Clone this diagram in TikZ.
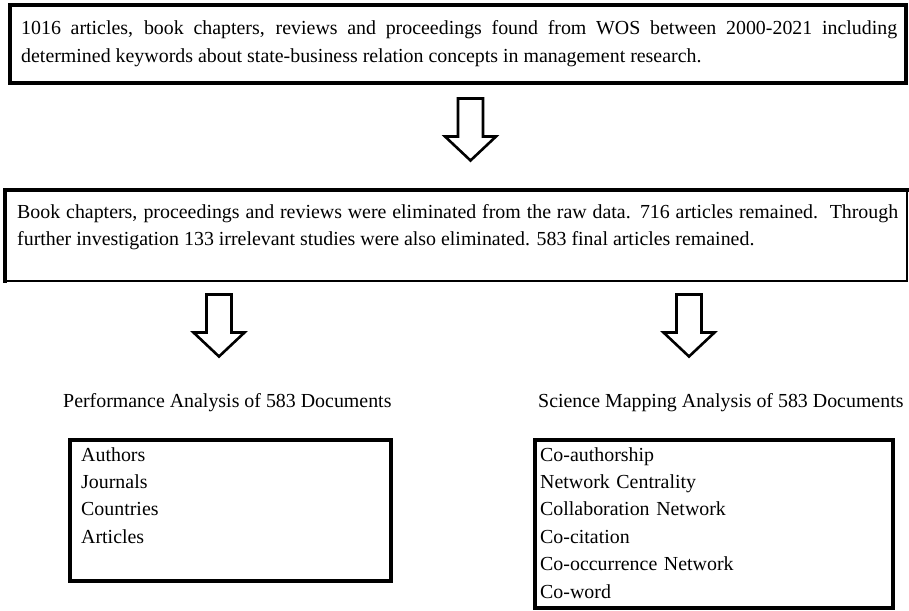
\documentclass[tikz,border=0pt]{standalone}
\usepackage{fontspec}
\setmainfont{Liberation Serif}
\tikzset{
  bigbox/.style={draw=black, line width=4.3pt, inner sep=0pt},
  txt/.style={inner sep=0pt, anchor=base west, font=\fontsize{19.9}{27.4}\selectfont, align=left},
  downarrow/.pic={\draw[line width=2.6pt, line join=miter, fill=white]
     (-12.5,0) -- (12.5,0) -- (12.5,38) -- (25.5,38) -- (0,62) -- (-25.5,38) -- (-12.5,38) -- cycle;}
}
\begin{document}
\begin{tikzpicture}[x=1pt,y=-1pt]
\useasboundingbox (0,0) rectangle (909,610);
% box 1
\node[bigbox, minimum width=896pt, minimum height=78pt] (box1) at (458,44) {};
\node[txt, text width=876pt, align=justify] (t1) at (21,35) {1016 articles, book chapters, reviews and proceedings found from WOS between 2000-2021 including\linebreak determined keywords about state-business relation concepts in management research.};
% arrow 1
\pic at (470.5,98.5) {downarrow};
% box 2
\coordinate (b2tl) at (5,190);
\coordinate (b2tr) at (907,190);
\coordinate (b2br) at (907,281);
\coordinate (b2bl) at (5,281);
\draw[line width=4.3pt, line cap=rect] (b2bl) -- (b2tl) -- (b2tr);
\draw[line width=2.4pt] (b2tr) -- (b2br) -- (b2bl);
\node[txt, text width=881pt, align=justify] (t2) at (17,218) {Book chapters, proceedings and reviews were eliminated from the raw data. 716 articles remained.\ \ Through\linebreak further investigation 133 irrelevant studies were also eliminated. 583 final articles remained.};
% arrows 2 and 3
\pic at (219,294.5) {downarrow};
\pic at (689,294.5) {downarrow};
% titles
\node[txt] (h1) at (63,407) {Performance Analysis of 583 Documents};
\node[txt] (h2) at (538,407) {Science Mapping Analysis of 583 Documents};
% box 3
\node[bigbox, minimum width=321pt, minimum height=141pt] (box3) at (230.5,510.5) {};
\node[txt, text width=300pt] (l1) at (81,461) {Authors\\Journals\\Countries\\Articles};
% box 4
\node[bigbox, minimum width=358pt, minimum height=168pt] (box4) at (714,524) {};
\node[txt, text width=340pt] (l2) at (540,461) {Co-authorship\\Network Centrality\\Collaboration Network\\Co-citation\\Co-occurrence Network\\Co-word};
\end{tikzpicture}
\end{document}
